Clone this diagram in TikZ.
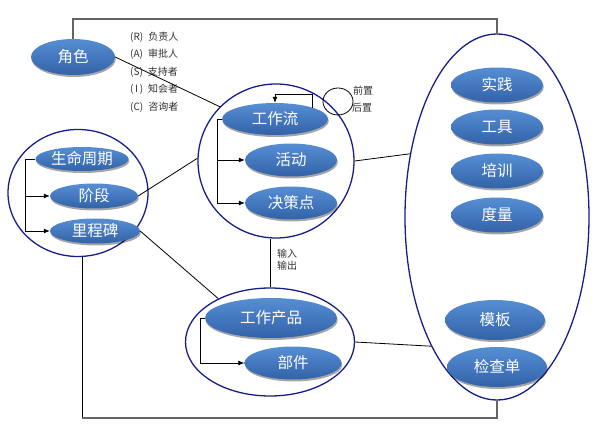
\documentclass[tikz,border=0pt]{standalone}
\usepackage{fontspec}
\newfontfamily\cjk{Noto Sans CJK SC}
\usetikzlibrary{shapes.geometric,shadows,arrows.meta}
\definecolor{nodetop}{RGB}{86,142,212}
\definecolor{nodebot}{RGB}{50,98,168}
\definecolor{navy}{RGB}{22,30,140}
\definecolor{framegray}{RGB}{100,100,100}
\definecolor{txtgray}{RGB}{50,50,50}
\tikzset{
  bn/.style={ellipse, top color=nodetop, bottom color=nodebot, draw=none,
    text=white, font=\cjk\fontsize{15.5}{15.5}\selectfont, inner sep=0pt,
    drop shadow={shadow xshift=0.8pt, shadow yshift=-2pt, opacity=0.35, fill=black}},
  cont/.style={ellipse, draw=navy, line width=1.3pt, inner sep=0pt},
  conn/.style={draw=black, line width=0.8pt},
  arr/.style={conn, -{Latex[length=6pt,width=5pt]}},
  small/.style={font=\cjk\fontsize{10}{12}\selectfont, text=txtgray, inner sep=0pt}
}
\begin{document}
\begin{tikzpicture}[x=1pt,y=-1pt]
\useasboundingbox (0,0) rectangle (598,433);
% containers
\node[cont, minimum width=140pt, minimum height=127pt] (L) at (78,193) {};
\node[cont, minimum width=156pt, minimum height=154pt] (C) at (276,161) {};
\node[cont, minimum width=169pt, minimum height=108pt] (B) at (270,342) {};
\node[cont, minimum width=184pt, minimum height=366pt] (R) at (497,217) {};
% role
\node[bn, minimum width=84pt, minimum height=36pt] (role) at (73,57) {角色};
% left
\node[bn, minimum width=93pt, minimum height=24pt] (life) at (82,159) {生命周期};
\node[bn, minimum width=88pt, minimum height=25pt] (stage) at (94,196) {阶段};
\node[bn, minimum width=90pt, minimum height=25pt] (mile) at (95,231) {里程碑};
% center
\node[bn, minimum width=106pt, minimum height=32pt] (wf) at (275,119) {工作流};
\node[bn, minimum width=92pt, minimum height=33pt] (act) at (291,160) {活动};
\node[bn, minimum width=92pt, minimum height=33pt] (dp) at (291,203) {决策点};
% bottom
\node[bn, minimum width=132pt, minimum height=40pt] (wp) at (271,318) {工作产品};
\node[bn, minimum width=97pt, minimum height=33pt] (part) at (293,363) {部件};
% right
\node[bn, minimum width=92pt, minimum height=35pt] (prac) at (497,85) {实践};
\node[bn, minimum width=92pt, minimum height=35pt] (tool) at (497,127) {工具};
\node[bn, minimum width=92pt, minimum height=35pt] (train) at (497,171) {培训};
\node[bn, minimum width=92pt, minimum height=35pt] (meas) at (497,215) {度量};
\node[bn, minimum width=100pt, minimum height=40pt] (tmpl) at (495,320) {模板};
\node[bn, minimum width=100pt, minimum height=40pt] (check) at (497,367) {检查单};
% RACI labels
\node[small, anchor=west] (r1) at (130,37) {(R)\; 负责人};
\node[small, anchor=west] (r2) at (130,54.5) {(A)\; 审批人};
\node[small, anchor=west] (r3) at (130,72) {(S)\; 支持者};
\node[small, anchor=west] (r4) at (130,89.5) {(\,I\,)\; 知会者};
\node[small, anchor=west] (r5) at (130,107) {(C)\; 咨询者};
% loop labels
\node[small, anchor=west] (pre) at (353,91) {前置};
\node[small, anchor=west] (post) at (352,108) {后置};
\node[small, anchor=north west, align=left] (io) at (277,249) {输入\\输出};
% loop circle
\node[ellipse, draw=black, line width=0.8pt, minimum width=30pt, minimum height=27pt, inner sep=0pt] (loop) at (338,101.5) {};
% frame lines
\coordinate (topy) at (0,19);
\coordinate (boty) at (0,418);
\draw[framegray, line width=1.4pt] (role.north) -- (role.north |- topy) -| (R.north);
\draw[black, line width=1pt] (L.274) -- (L.274 |- boty);
\draw[framegray, line width=1.6pt] (L.274 |- boty) -| (R.south);
% connectors
\draw[conn] (role.east) -- (C.136);
\draw[conn] (stage.east) -- (C.178);
\draw[conn] (mile.east) -- (B.140);
\draw[conn] (C.east) -- (R.144);
\draw[conn] (B.east) -- (R.243);
\draw[conn] (B.north) -- (B.north |- C.south);
% brackets
\coordinate (lb) at (25,0);
\draw[conn] (life.west) -- (life.west -| lb) -- (mile.west -| lb);
\draw[arr] (stage.west -| lb) -- (stage.west);
\draw[arr] (mile.west -| lb) -- (mile.west);
\coordinate (cb) at (217,0);
\draw[conn] (wf.west) -- (wf.west -| cb) -- (dp.west -| cb);
\draw[arr] (act.west -| cb) -- (act.west);
\draw[arr] (dp.west -| cb) -- (dp.west);
\coordinate (bb) at (200,0);
\draw[conn] (wp.west) -- (wp.west -| bb) -- (part.west -| bb);
\draw[arr] (part.west -| bb) -- (part.west);
% self loop
\coordinate (ly) at (0,94);
\draw[arr] (wf.17) -- (wf.17 |- ly) -| (wf.north);
\end{tikzpicture}
\end{document}
